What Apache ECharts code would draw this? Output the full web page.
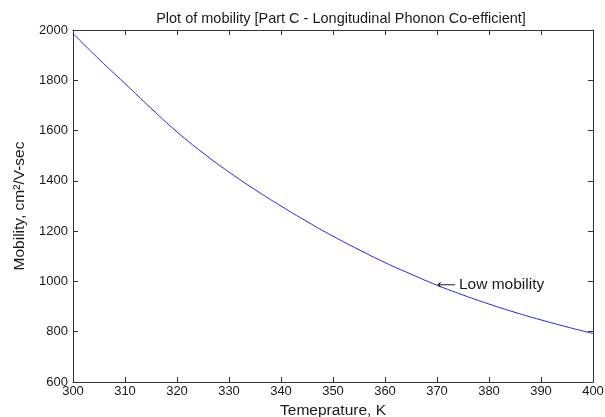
<!DOCTYPE html>
<html>
<head>
<meta charset="utf-8">
<script src="https://cdn.jsdelivr.net/npm/echarts@6/dist/echarts.min.js"></script>
<style>
  html, body { margin: 0; padding: 0; background: #fff; }
  #chart { width: 605px; height: 417px; }
</style>
</head>
<body>
<div id="chart"></div>
<script>
// 温度 (K) 与迁移率 (cm^2/V-sec)
const temperature = [300, 305, 310, 315, 320, 325, 330, 335, 340, 345, 350,
                     355, 360, 365, 370, 375, 380, 385, 390, 395, 400];
const mobility = [1986, 1884, 1787, 1689, 1595, 1511, 1435, 1365, 1300, 1238, 1180,
                  1126, 1075, 1029, 985, 946, 910, 877, 847, 819, 793];
const xTicks = [300, 310, 320, 330, 340, 350, 360, 370, 380, 390, 400];
const yTicks = [600, 800, 1000, 1200, 1400, 1600, 1800, 2000];

// 注释点
const notePoint = [370, 985];
const noteText = 'Low mobility';

const chart = echarts.init(document.getElementById('chart'));
const font = 'Liberation Sans, Arial, sans-serif';
const axisColor = '#333';
const textColor = '#1a1a1a';

const boxAxis = (extra) => Object.assign({
  type: 'value',
  axisLine: { show: true, lineStyle: { color: axisColor, width: 1 } },
  axisTick: { show: true, inside: true, length: 5, lineStyle: { color: axisColor } },
  splitLine: { show: false }
}, extra);

const option = {
  backgroundColor: '#fff',
  animation: false,
  textStyle: { fontFamily: font },
  title: {
    text: 'Plot of mobility [Part C - Longitudinal Phonon Co-efficient]',
    left: 336,
    textAlign: 'center',
    top: 6,
    textStyle: { fontFamily: font, fontSize: 14.5, fontWeight: 'normal', color: textColor }
  },
  grid: { left: 73, top: 30, width: 520, height: 352, outerBoundsMode: 'none' },
  xAxis: [
    boxAxis({
      min: xTicks[0], max: xTicks[xTicks.length - 1], interval: 10,
      name: 'Temeprature, K',
      nameLocation: 'middle',
      nameGap: 15,
      nameTextStyle: { fontFamily: font, fontSize: 15.5, color: textColor },
      axisLabel: { margin: 3, fontSize: 13, color: textColor, fontFamily: font }
    }),
    boxAxis({
      position: 'top',
      min: xTicks[0], max: xTicks[xTicks.length - 1], interval: 10,
      axisLabel: { show: false }
    })
  ],
  yAxis: [
    boxAxis({
      min: yTicks[0], max: yTicks[yTicks.length - 1], interval: 200,
      name: 'Mobility, cm\u00b2/V-sec',
      nameLocation: 'middle',
      nameGap: 42,
      nameTextStyle: { fontFamily: font, fontSize: 15.5, color: textColor },
      axisLabel: {
        margin: 5, fontSize: 13, color: textColor, fontFamily: font,
        formatter: (v) => String(v)
      }
    }),
    boxAxis({
      position: 'right',
      min: yTicks[0], max: yTicks[yTicks.length - 1], interval: 200,
      axisLabel: { show: false }
    })
  ],
  series: [
    {
      type: 'line',
      data: temperature.map((t, i) => [t, mobility[i]]),
      showSymbol: false,
      smooth: true,
      lineStyle: { color: '#2626d9', width: 1 },
      markPoint: {
        symbol: 'circle',
        symbolSize: 0,
        data: [{ coord: notePoint }],
        label: {
          show: true,
          position: 'right',
          distance: 0,
          formatter: '{a|\u27f5} {b|' + noteText + '}',
          rich: {
            a: { fontFamily: 'DejaVu Sans', fontSize: 13, color: textColor },
            b: { fontFamily: font, fontSize: 15.5, color: textColor }
          }
        }
      }
    }
  ]
};

chart.setOption(option);
</script>
</body>
</html>
